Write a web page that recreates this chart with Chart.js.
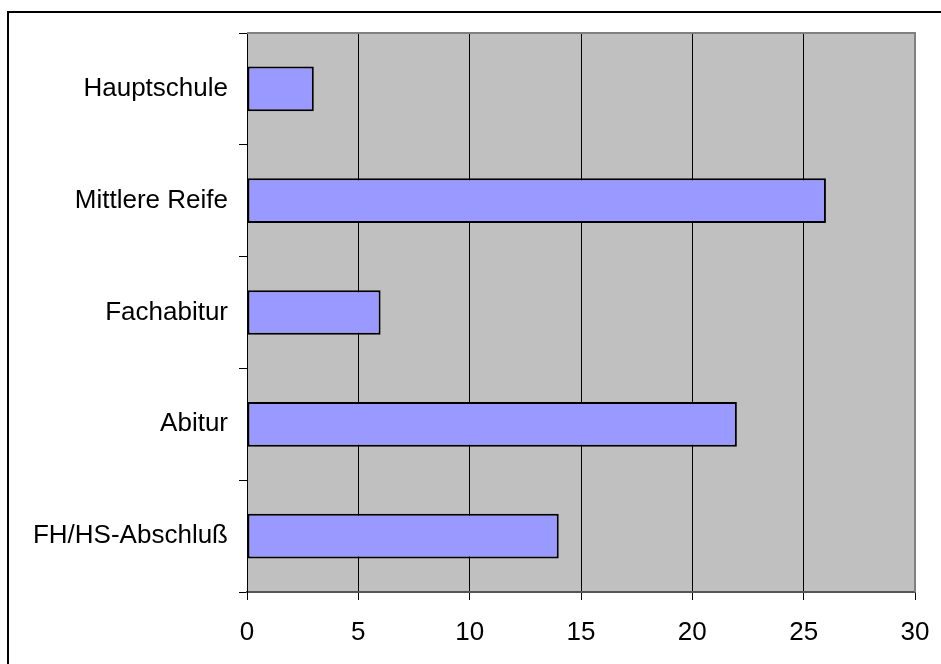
<!DOCTYPE html>
<html>
<head>
<meta charset="utf-8">
<script src="https://cdn.jsdelivr.net/npm/chart.js@4.4.0/dist/chart.umd.min.js"></script>
<style>
  html, body { margin: 0; padding: 0; background: #fff; }
  #wrap { width: 941px; height: 664px; position: relative; }
</style>
</head>
<body>
<div id="wrap"><canvas id="myChart" width="941" height="664"></canvas></div>
<script>
var abschluesse = ["Hauptschule", "Mittlere Reife", "Fachabitur", "Abitur", "FH/HS-Abschluß"];
var anzahl = [3, 26, 6, 22, 14];
var xTicks = [0, 5, 10, 15, 20, 25, 30];

var ctx = document.getElementById("myChart").getContext('2d');

// grauer Hintergrund, Rahmen oben/rechts und Aussenrahmen
var plotFrame = {
  id: 'plotFrame',
  beforeDraw: function(chart) {
    var c = chart.ctx, a = chart.chartArea;
    c.save();
    c.fillStyle = '#C0C0C0';
    c.fillRect(a.left, a.top, a.right - a.left, a.bottom - a.top);
    c.strokeStyle = '#000';
    c.lineWidth = 2;
    c.beginPath();
    c.moveTo(8, 664);
    c.lineTo(8, 12);
    c.lineTo(941, 12);
    c.stroke();
    c.restore();
  },
  afterDatasetsDraw: function(chart) {
    var c = chart.ctx, a = chart.chartArea;
    c.save();
    c.strokeStyle = '#808080';
    c.lineWidth = 2;
    c.beginPath();
    c.moveTo(a.left, a.top);
    c.lineTo(a.right, a.top);
    c.lineTo(a.right, a.bottom);
    c.stroke();
    c.restore();
  }
};

var labelFont = { family: 'Liberation Sans, Arial, sans-serif', size: 26 };

var options = {
  type: 'bar',
  data: {
    labels: abschluesse,
    datasets: [{
      data: anzahl,
      backgroundColor: '#9999FF',
      borderColor: '#000000',
      borderWidth: 2,
      borderSkipped: false,
      barPercentage: 0.4,
      categoryPercentage: 1
    }]
  },
  options: {
    indexAxis: 'y',
    responsive: false,
    animation: false,
    layout: { padding: { top: 33, right: 26, left: 0, bottom: 0 } },
    plugins: { legend: { display: false }, tooltip: { enabled: false } },
    scales: {
      x: {
        min: 0,
        max: 30,
        afterBuildTicks: function(scale) {
          scale.ticks = xTicks.map(function(v) { return { value: v }; });
        },
        afterFit: function(scale) {
          scale.height = 72;
          scale.paddingLeft = 0;
          scale.paddingRight = 0;
        },
        grid: {
          color: function(c) { return c.tick && c.tick.value === 30 ? '#808080' : '#000'; },
          lineWidth: 1,
          drawTicks: true,
          tickLength: 8,
          tickColor: '#000'
        },
        border: { color: '#555555', width: 2 },
        ticks: {
          color: '#000',
          padding: 17,
          maxRotation: 0,
          font: labelFont
        }
      },
      y: {
        afterFit: function(scale) { scale.width = 247; },
        grid: {
          drawOnChartArea: false,
          drawTicks: true,
          tickLength: 8,
          color: '#000',
          offset: true
        },
        border: { color: '#000', width: 1 },
        ticks: {
          color: '#000',
          padding: 11,
          font: labelFont
        }
      }
    }
  },
  plugins: [plotFrame]
};

new Chart(ctx, options);
</script>
</body>
</html>
